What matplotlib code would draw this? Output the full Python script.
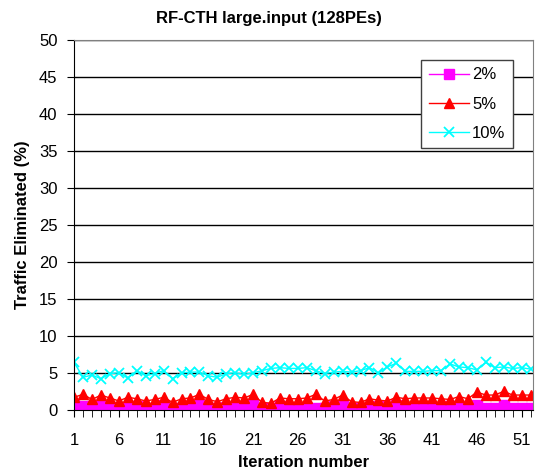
import matplotlib
matplotlib.use("Agg")
import matplotlib.pyplot as plt
import numpy as np

plt.rcParams["font.family"] = ["Liberation Sans", "DejaVu Sans"]

iterations = np.arange(1, 53)

pct_2 = [0.7, 0.5, 0.5, 0.5, 0.3, 0.4, 0.3, 0.5, 0.3, 0.3,
         0.6, 0.2, 0.3, 0.5, 0.7, 0.3, 0.2, 0.4, 0.3, 0.5,
         0.7, 0.2, 0.2, 0.5, 0.3, 0.3, 0.3, 0.3, 0.3, 0.5,
         0.6, 0.3, 0.3, 0.3, 0.5, 0.3, 0.6, 0.3, 0.3, 0.3,
         0.3, 0.3, 0.5, 0.3, 0.3, 0.7, 0.3, 0.3, 0.7, 0.3,
         0.3, 0.3]
pct_5 = [1.7, 2.1, 1.4, 2.0, 1.6, 1.2, 1.7, 1.5, 1.2, 1.4,
         1.7, 1.0, 1.5, 1.6, 2.1, 1.4, 1.1, 1.5, 1.7, 1.6,
         2.1, 1.0, 0.9, 1.6, 1.5, 1.5, 1.6, 2.1, 1.2, 1.4,
         2.0, 1.1, 1.0, 1.5, 1.3, 1.2, 1.7, 1.5, 1.6, 1.6,
         1.6, 1.5, 1.4, 1.8, 1.5, 2.4, 2.0, 2.0, 2.5, 2.0,
         2.0, 2.0]
pct_10 = [6.4, 4.4, 4.7, 4.2, 4.9, 5.0, 4.3, 5.3, 4.6, 4.9,
          5.3, 4.2, 5.0, 5.1, 5.1, 4.6, 4.4, 4.9, 5.0, 4.8,
          5.0, 5.3, 5.6, 5.7, 5.6, 5.6, 5.7, 5.3, 4.9, 5.1,
          5.2, 5.1, 5.3, 5.7, 5.0, 5.8, 6.3, 5.2, 5.2, 5.2,
          5.3, 5.3, 6.2, 5.8, 5.7, 5.4, 6.4, 5.7, 5.8, 5.6,
          5.7, 5.5]

labels = ["2%", "5%", "10%"]
y_ticks = np.arange(0, 51, 5)
x_labeled = np.arange(1, 53, 5)

fig = plt.figure(figsize=(5.37, 4.76), dpi=100)
ax = fig.add_axes([0.138, 0.139, 0.855, 0.777])

ax.plot(iterations, pct_2, color="#ff00ff", marker="s", markersize=6.5, lw=1, label=labels[0])
ax.plot(iterations, pct_5, color="#ff0000", marker="^", markersize=7.5, lw=1, label=labels[1])
ax.plot(iterations, pct_10, color="#00ffff", marker="x", markersize=7.5, mew=1.3, lw=1, label=labels[2])

ax.set_xlim(1, 52.3)
ax.set_ylim(0, 50)
ax.set_yticks(y_ticks)
ax.set_xticks(x_labeled)
ax.set_xticks(iterations, minor=True)
ax.tick_params(axis="both", which="both", labelsize=12, direction="out", color="black")
ax.tick_params(axis="x", which="major", length=5, pad=12)
ax.tick_params(axis="x", which="minor", length=5)
ax.tick_params(axis="y", length=5, pad=7)
ax.grid(True, axis="y", color="black", lw=1)
ax.set_axisbelow(True)

for side in ("top", "right"):
    ax.spines[side].set_color("#808080")
for side in ("left", "bottom"):
    ax.spines[side].set_color("black")

fig.text(0.5, 1 - 18 / 476, "RF-CTH large.input (128PEs)", fontsize=12,
         fontweight="bold", ha="center", va="center")
ax.set_xlabel("Iteration number", fontsize=12, fontweight="bold")
ax.set_ylabel("Traffic Eliminated (%)", fontsize=12, fontweight="bold")
ax.xaxis.set_label_coords(0.5, -(463 - 410) / 370)
ax.yaxis.set_label_coords(-(74 - 22) / 459, 0.5)
ax.xaxis.label.set_va("center")
ax.yaxis.label.set_va("center")

leg = ax.legend(loc="upper right", bbox_to_anchor=(0.956, 0.946), fontsize=12,
                fancybox=False, framealpha=1, edgecolor="#404040",
                handlelength=2.4, handletextpad=0.2, borderpad=0.45,
                labelspacing=0.85, borderaxespad=0)
leg.get_frame().set_linewidth(1)

fig.savefig("out.png", dpi=100)
